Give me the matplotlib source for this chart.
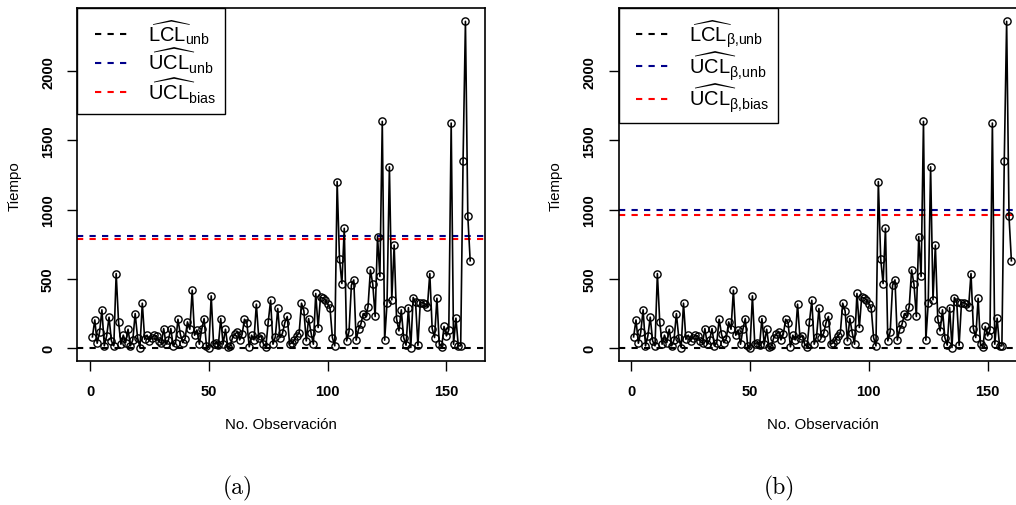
import numpy as np
import matplotlib
matplotlib.use("Agg")
import matplotlib.pyplot as plt
from matplotlib.lines import Line2D
from matplotlib.legend_handler import HandlerLine2D

plt.rcParams["font.family"] = ["Liberation Sans", "DejaVu Sans"]
plt.rcParams["mathtext.fontset"] = "custom"
plt.rcParams["mathtext.rm"] = "Liberation Sans"
plt.rcParams["mathtext.it"] = "Liberation Sans:italic"
plt.rcParams["mathtext.bf"] = "Liberation Sans:bold"

tiempo = [
    82, 204, 36, 115, 277, 17, 89, 224, 53, 17,
    539, 190, 29, 94, 41, 137, 17, 60, 250, 77,
    5, 325, 65, 94, 55, 77, 94, 89, 50, 35,
    142, 29, 60, 142, 17, 40, 209, 101, 41, 70,
    190, 137, 419, 94, 132, 29, 137, 214, 17, 5,
    378, 29, 41, 20, 214, 29, 137, 10, 17, 77,
    100, 120, 60, 100, 209, 185, 10, 94, 60, 318,
    77, 89, 29, 10, 190, 346, 29, 84, 287, 77,
    108, 185, 229, 29, 40, 60, 90, 110, 325, 270,
    53, 214, 113, 29, 395, 149, 370, 360, 350, 320,
    290, 77, 17, 1203, 643, 467, 866, 53, 120, 455,
    493, 58, 137, 175, 250, 230, 300, 565, 462, 229,
    806, 518, 1637, 58, 325, 1309, 349, 744, 214, 125,
    277, 77, 22, 293, 5, 366, 334, 20, 330, 330,
    320, 300, 539, 142, 77, 361, 29, 10, 157, 89,
    132, 1625, 29, 217, 17, 17, 1352, 2359, 951, 631,
]
obs = np.arange(1, len(tiempo) + 1)

# limites de control por panel: LCL_unb, UCL_unb, UCL_bias
limites_a = [2, 810, 787]
limites_b = [2, 995, 962]
etiquetas_a = [r"$\widehat{\mathrm{LCL}}_{\mathrm{unb}}$",
               r"$\widehat{\mathrm{UCL}}_{\mathrm{unb}}$",
               r"$\widehat{\mathrm{UCL}}_{\mathrm{bias}}$"]
etiquetas_b = [r"$\widehat{\mathrm{LCL}}_{\mathrm{\beta}{,}\mathrm{unb}}$",
               r"$\widehat{\mathrm{UCL}}_{\mathrm{\beta}{,}\mathrm{unb}}$",
               r"$\widehat{\mathrm{UCL}}_{\mathrm{\beta}{,}\mathrm{bias}}$"]
colores = ["black", "#00008B", "red"]

W, H = 1016, 506
fig = plt.figure(figsize=(W / 100, H / 100), dpi=100)


def panel(x0, limites, etiquetas, letra):
    ax = fig.add_axes([x0 / W, 1 - 362.3 / H, 408 / W, 353 / H])
    ax.plot(obs, tiempo, color="black", lw=1.2, marker="o", ms=5.2,
            mfc="none", mec="black", mew=1.0, zorder=3)
    for v, c, lab in zip(limites, colores, etiquetas):
        ax.axhline(v, color=c, lw=1.5, ls=(0, (3, 3)), label=lab, zorder=2)
    xr = obs.max() - obs.min()
    ax.set_xlim(obs.min() - 0.04 * xr, obs.max() + 0.04 * xr)
    lo, hi = 0, max(tiempo)
    ax.set_ylim(lo - 0.04 * (hi - lo), hi + 0.04 * (hi - lo))
    ax.set_xticks([0, 50, 100, 150])
    ax.set_yticks([0, 500, 1000, 1500, 2000])
    ax.tick_params(length=7, width=1, pad=9, labelsize=10.5)
    for t in ax.get_xticklabels() + ax.get_yticklabels():
        t.set_fontweight("bold")
    for t in ax.get_yticklabels():
        t.set_rotation(90)
        t.set_va("center")
    for s in ax.spines.values():
        s.set_linewidth(1.2)
    ax.set_xlabel("No. Observación", fontsize=10.8, labelpad=14)
    ax.set_ylabel("Tiempo", fontsize=10.8, labelpad=14)
    leg = ax.legend(loc="upper left", borderaxespad=0, fancybox=False,
                    edgecolor="black", framealpha=1, fontsize=14.5,
                    handlelength=2.27, handletextpad=0.8, labelspacing=0.0,
                    borderpad=0.45,
                    handler_map={Line2D: HandlerLine2D(xpad=0.43)})
    leg.get_frame().set_linewidth(1.0)
    fig.text((x0 + 161) / W, 1 - 488 / H, letra, family="cmr10",
             fontsize=17, ha="center", va="center")
    return ax


panel(77.3, limites_a, etiquetas_a, "(a)")
panel(618.5, limites_b, etiquetas_b, "(b)")

fig.savefig("out.png", dpi=100)
